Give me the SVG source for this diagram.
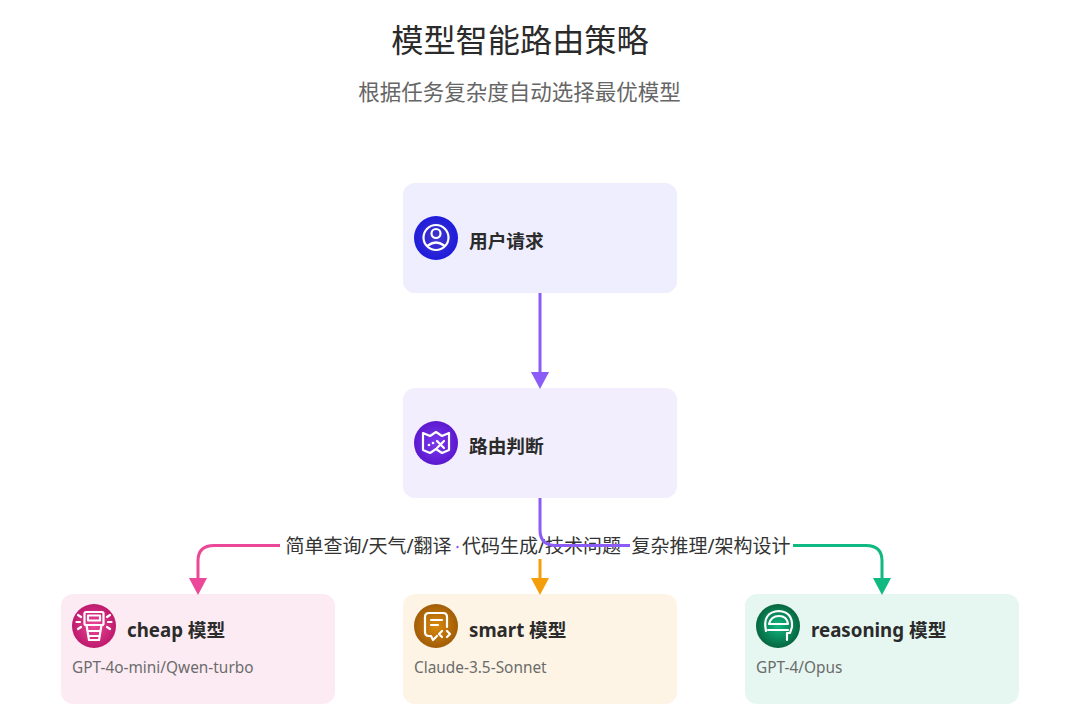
<svg xmlns="http://www.w3.org/2000/svg" width="1080" height="724" viewBox="0 0 1080 724">
<style>
text{font-family:"Noto Sans","Noto Sans CJK SC",sans-serif}
.t{font-size:32.2px;fill:#2b2b2b;text-anchor:middle}
.s{font-size:21.5px;fill:#666;text-anchor:middle}
.n{font-size:18.7px;font-weight:700;fill:#2b2b2b}
.d{font-size:15.4px;fill:#6b6b6b}
.l{font-size:19px;fill:#333;text-anchor:middle}
.card{stroke:none}
.ic{fill:none;stroke:#fff;stroke-width:2.2;stroke-linecap:round;stroke-linejoin:round}
.w{fill:#fff;stroke:none}
.c{fill:none;stroke-width:3}
</style>
<defs>
<radialGradient id="g1"><stop offset="0" stop-color="#4338ca"/><stop offset="1" stop-color="#1e1bdc"/></radialGradient>
<radialGradient id="g2"><stop offset="0" stop-color="#7c3aed"/><stop offset="1" stop-color="#5b18cf"/></radialGradient>
<radialGradient id="g3"><stop offset="0" stop-color="#ec4899"/><stop offset="1" stop-color="#bd1a6d"/></radialGradient>
<radialGradient id="g4"><stop offset="0" stop-color="#d98a0b"/><stop offset="1" stop-color="#a15c07"/></radialGradient>
<radialGradient id="g5"><stop offset="0" stop-color="#10b981"/><stop offset="1" stop-color="#06663f"/></radialGradient>
<marker id="mv" markerWidth="18" markerHeight="17" refX="9" refY="9" markerUnits="userSpaceOnUse" viewBox="0 0 18 17"><path d="M0 0H18L9 17Z" fill="#8b5cf6"/></marker>
<marker id="mp" markerWidth="18" markerHeight="17" refX="9" refY="9" markerUnits="userSpaceOnUse" viewBox="0 0 18 17"><path d="M0 0H18L9 17Z" fill="#ec4899"/></marker>
<marker id="mo" markerWidth="18" markerHeight="17" refX="9" refY="9" markerUnits="userSpaceOnUse" viewBox="0 0 18 17"><path d="M0 0H18L9 17Z" fill="#f59e0b"/></marker>
<marker id="mg" markerWidth="18" markerHeight="17" refX="9" refY="9" markerUnits="userSpaceOnUse" viewBox="0 0 18 17"><path d="M0 0H18L9 17Z" fill="#10b981"/></marker>
</defs>
<rect width="1080" height="724" fill="#fff"/>
<text class="t" x="520" y="52">模型智能路由策略</text>
<text class="s" x="519.500" y="100">根据任务复杂度自动选择最优模型</text>

<g id="node-user">
<rect class="card" x="403" y="183" width="274" height="110" rx="12" fill="#eeeefe"/>
<circle cx="436" cy="238" r="22" fill="url(#g1)"/>
<circle class="ic" cx="436" cy="237.500" r="12.500"/>
<circle class="ic" cx="436" cy="233.500" r="4.500"/>
<path class="ic" d="M428 245.500Q436 239.500 444 245.500"/>
<text class="n" x="469" y="248">用户请求</text>
</g>

<g id="node-router">
<rect class="card" x="403" y="388" width="274" height="110" rx="12" fill="#f2eefd"/>
<circle cx="436" cy="443" r="22" fill="url(#g2)"/>
<path class="ic" d="M423 433L430 436L436 432L442 436L449 433V450L442 453L436 449L430 453L423 450Z" stroke-width="2.600"/>
<path class="ic" d="M437 441L444 448M444 441L437 448" stroke-width="2.800"/>
<circle class="w" cx="429" cy="445" r="1.300"/><circle class="w" cx="433" cy="443" r="1.300"/>
<text class="n" x="469" y="453">路由判断</text>
</g>

<g id="node-cheap">
<rect class="card" x="61" y="594" width="274" height="110" rx="12" fill="#fdebf4"/>
<circle cx="94" cy="626" r="22" fill="url(#g3)"/>
<rect class="ic" x="84.500" y="612" width="19" height="13" rx="1.500"/>
<rect class="ic" x="88" y="615.500" width="12" height="5" stroke-width="1.500"/>
<path class="ic" d="M86.500 625L89 640H99L101.500 625M88.500 631H99.500M90 636H98" stroke-width="2"/>
<path class="ic" d="M78 615l3 2M76.500 622h3.500M78 629l3-2M110 615l-3 2M111.500 622H108M110 629l-3-2" stroke-width="1.600"/>
<text class="n" x="127" y="637">cheap 模型</text>
<text class="d" x="72" y="673">GPT-4o-mini/Qwen-turbo</text>
</g>

<g id="node-smart">
<rect class="card" x="403" y="594" width="274" height="110" rx="12" fill="#fdf4e5"/>
<circle cx="436" cy="626" r="22" fill="url(#g4)"/>
<path class="ic" d="M425 617Q425 613 429 613H443Q447 613 447 617V627M425 617V632Q425 636 429 636H431L433 640L437 636" stroke-width="2.600"/>
<path class="ic" d="M431 620H442M431 625H438" stroke-width="2.200"/>
<path class="ic" d="M442 631L439 634L442 637M447 631L450 634L447 637" stroke-width="2"/>
<text class="n" x="469" y="637">smart 模型</text>
<text class="d" x="414" y="673">Claude-3.5-Sonnet</text>
</g>

<g id="node-reasoning">
<rect class="card" x="745" y="594" width="274" height="110" rx="12" fill="#e5f7f0"/>
<circle cx="778" cy="626" r="22" fill="url(#g5)"/>
<path class="ic" d="M766 631Q762 612 779 611Q793 612 792 627L790 633H787V640" stroke-width="2"/>
<path class="ic" d="M769 624Q771 616 779 616Q787 616 788 624Z" stroke-width="2"/>
<path class="ic" d="M768 630H788" stroke-width="2"/>
<text class="n" x="811" y="637">reasoning 模型</text>
<text class="d" x="756" y="673">GPT-4/Opus</text>
</g>

<g id="connectors">
<path class="c" d="M540 293V381" stroke="#8b5cf6" marker-end="url(#mv)"/>
<path class="c" d="M280 545.500H214Q198 545.500 198 561V587" stroke="#ec4899" marker-end="url(#mp)"/>
<path class="c" d="M540 559V587" stroke="#f59e0b" marker-end="url(#mo)"/>
<path class="c" d="M793 545.500H866Q882 545.500 882 561V587" stroke="#10b981" marker-end="url(#mg)"/>
<text class="l" x="368.500" y="552.500">简单查询/天气/翻译</text>
<text class="l" x="541.500" y="552.500">代码生成/技术问题</text>
<path class="c" d="M540 498V530Q540 545.500 556 545.500H630" stroke="#8b5cf6"/>
<text class="l" x="711" y="552.500">复杂推理/架构设计</text>
<circle cx="457.500" cy="547" r="1.200" fill="#8b5cf6"/>
</g>
</svg>
